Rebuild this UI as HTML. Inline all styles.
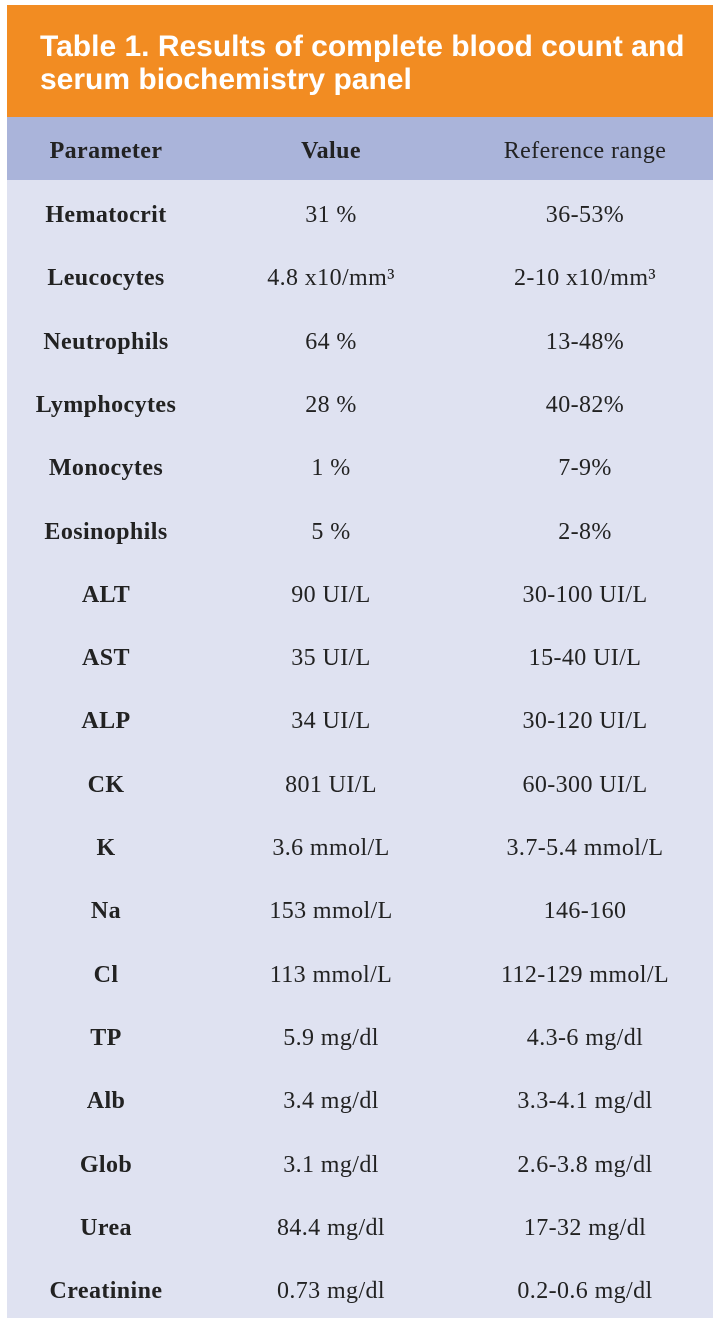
<!DOCTYPE html>
<html><head><style>
body{margin:0;width:720px;height:1325px;background:#fff;position:relative;overflow:hidden}
.t{position:absolute;left:7px;top:5px;width:706px;height:112px;background:#f28c22;color:#fff;font-family:"Liberation Sans",sans-serif;font-weight:bold;font-size:30px;line-height:33px;box-sizing:border-box;padding:25px 0 0 33px;white-space:nowrap}
.h{position:absolute;left:7px;top:117px;width:706px;height:63px;background:#aab4da}
.b{position:absolute;left:7px;top:180px;width:706px;height:1138px;background:#dfe2f1}
.r{position:absolute;left:0;width:720px;height:63.2px;font-family:"Liberation Serif",serif;font-size:24px;letter-spacing:0.4px;color:#222}
.r div{position:absolute;top:0;line-height:63.2px;text-align:center;width:300px;white-space:nowrap}
.c1{left:-44px;font-weight:bold}.c2{left:181px}.c3{left:435px}
</style></head><body>
<div class="t">Table 1. Results of complete blood count and<br>serum biochemistry panel</div>
<div class="h"></div><div class="b"></div>
<div class="r" style="top:120px"><div class="c1">Parameter</div><div class="c2" style="font-weight:bold">Value</div><div class="c3">Reference range</div></div>
<script>
var d=[["Hematocrit","31 %","36-53%"],["Leucocytes","4.8 x10/mm³","2-10 x10/mm³"],["Neutrophils","64 %","13-48%"],["Lymphocytes","28 %","40-82%"],["Monocytes","1 %","7-9%"],["Eosinophils","5 %","2-8%"],["ALT","90 UI/L","30-100 UI/L"],["AST","35 UI/L","15-40 UI/L"],["ALP","34 UI/L","30-120 UI/L"],["CK","801 UI/L","60-300 UI/L"],["K","3.6 mmol/L","3.7-5.4 mmol/L"],["Na","153 mmol/L","146-160"],["Cl","113 mmol/L","112-129 mmol/L"],["TP","5.9 mg/dl","4.3-6 mg/dl"],["Alb","3.4 mg/dl","3.3-4.1 mg/dl"],["Glob","3.1 mg/dl","2.6-3.8 mg/dl"],["Urea","84.4 mg/dl","17-32 mg/dl"],["Creatinine","0.73 mg/dl","0.2-0.6 mg/dl"]];
for(var i=0;i<d.length;i++)document.write('<div class="r" style="top:'+(184+i*63.3)+'px"><div class="c1">'+d[i][0]+'</div><div class="c2">'+d[i][1]+'</div><div class="c3">'+d[i][2]+'</div></div>');
</script>
</body></html>
